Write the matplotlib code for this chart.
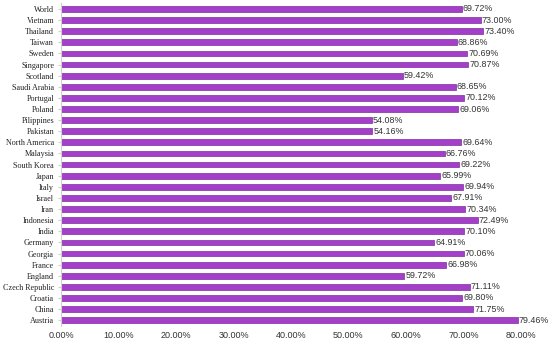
import matplotlib
matplotlib.use("Agg")
import matplotlib.pyplot as plt
from matplotlib.ticker import FuncFormatter

categories = ["Austria", "China", "Croatia", "Czech Republic", "England", "France",
              "Georgia", "Germany", "India", "Indonesia", "Iran", "Israel", "Italy",
              "Japan", "South Korea", "Malaysia", "North America", "Pakistan",
              "Pilippines", "Poland", "Portugal", "Saudi Arabia", "Scotland",
              "Singapore", "Sweden", "Taiwan", "Thailand", "Vietnam", "World"]
values = [79.46, 71.75, 69.80, 71.11, 59.72, 66.98, 70.06, 64.91, 70.10, 72.49,
          70.34, 67.91, 69.94, 65.99, 69.22, 66.76, 69.64, 54.16, 54.08, 69.06,
          70.12, 68.65, 59.42, 70.87, 70.69, 68.86, 73.40, 73.00, 69.72]
xticks = [0, 10, 20, 30, 40, 50, 60, 70, 80]

fig = plt.figure(figsize=(5.5, 3.44), dpi=100)
ax = fig.add_axes([0.111, 0.053, 0.836, 0.937])

y = list(range(len(categories)))
ax.barh(y, values, height=0.52, color="#A33FC9", edgecolor="#7E2D9E", linewidth=0.5)

for yi, v in zip(y, values):
    ax.text(v + 0.2, yi, f"{v:.2f}%", va="center", ha="left", fontsize=6.4,
            family="Liberation Sans", color="#333333")

ax.set_xlim(0, 80)
ax.set_ylim(-0.5, len(categories) - 0.5)
ax.set_yticks(y)
ax.set_yticklabels(categories, family="Liberation Serif", fontsize=5.9, color="#222222")
ax.set_xticks(xticks)
ax.xaxis.set_major_formatter(FuncFormatter(lambda v, p: f"{v:.2f}%"))
for lab in ax.get_xticklabels():
    lab.set_family("Liberation Sans")
    lab.set_fontsize(6.5)
    lab.set_color("#333333")

for s in ["top", "right", "bottom"]:
    ax.spines[s].set_visible(False)
ax.spines["left"].set_color("#D0D0D0")
ax.spines["left"].set_linewidth(0.8)
ax.tick_params(axis="y", length=2, color="#D0D0D0", pad=3)
ax.tick_params(axis="x", length=0, pad=4)

fig.savefig("out.png", dpi=100)
